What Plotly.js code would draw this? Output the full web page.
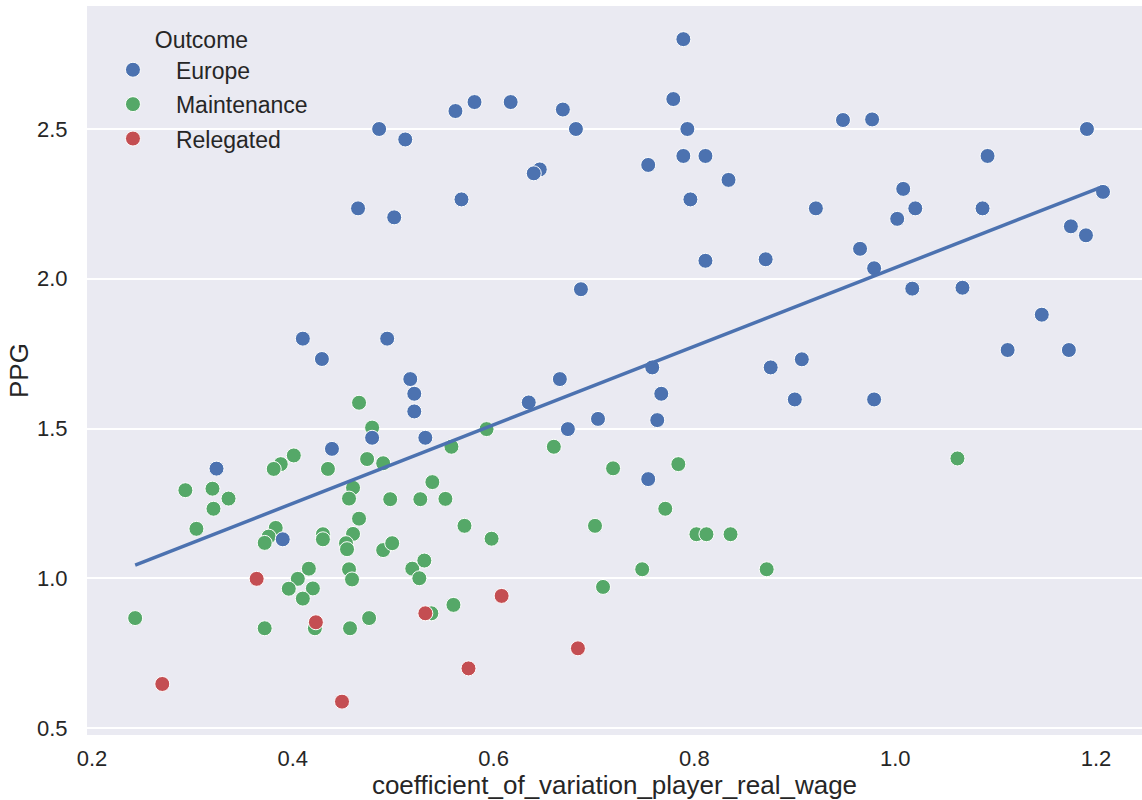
<!DOCTYPE html>
<html>
<head>
<meta charset="utf-8">
<script src="https://cdn.plot.ly/plotly-3.0.1.min.js"></script>
<style>
  html, body { margin: 0; padding: 0; background: #ffffff; }
  #chart { width: 1142px; height: 800px; }
</style>
</head>
<body>
<div id="chart"></div>
<script>
// ---- Data ----
const outcomeLabels = ["Europe", "Maintenance", "Relegated"];

const europeX = [0.789, 0.779, 0.793, 0.789, 0.811, 0.754, 0.834, 0.796, 0.921, 0.811,
  0.871, 0.687, 0.669, 0.682, 0.617, 0.581, 0.562, 0.512, 0.486, 0.646,
  0.640, 0.568, 0.501, 0.465, 0.948, 0.977, 1.191, 1.092, 1.008, 1.020,
  1.002, 1.087, 1.207, 1.175, 1.190, 0.965, 0.979, 1.017, 1.067, 1.146,
  1.112, 1.173, 0.876, 0.907, 0.900, 0.979, 0.758, 0.767, 0.763, 0.754,
  0.666, 0.635, 0.674, 0.704, 0.494, 0.410, 0.429, 0.517, 0.521, 0.521,
  0.532, 0.479, 0.439, 0.324, 0.390];
const europeY = [2.80, 2.60, 2.50, 2.41, 2.41, 2.38, 2.33, 2.265, 2.235, 2.06,
  2.065, 1.965, 2.565, 2.50, 2.59, 2.59, 2.56, 2.465, 2.50, 2.365,
  2.352, 2.265, 2.205, 2.235, 2.53, 2.532, 2.50, 2.41, 2.30, 2.235,
  2.20, 2.235, 2.29, 2.175, 2.145, 2.10, 2.035, 1.967, 1.97, 1.88,
  1.762, 1.762, 1.704, 1.731, 1.597, 1.597, 1.704, 1.616, 1.528, 1.331,
  1.665, 1.587, 1.498, 1.532, 1.80, 1.80, 1.732, 1.665, 1.616, 1.557,
  1.469, 1.469, 1.432, 1.366, 1.130];

const maintenanceX = [1.062, 0.719, 0.784, 0.771, 0.802, 0.812, 0.836, 0.748, 0.872, 0.709,
  0.593, 0.558, 0.490, 0.660, 0.539, 0.497, 0.527, 0.552, 0.571, 0.598,
  0.701, 0.490, 0.499, 0.519, 0.531, 0.526, 0.560, 0.538, 0.466, 0.479,
  0.474, 0.401, 0.388, 0.381, 0.435, 0.293, 0.320, 0.336, 0.321, 0.304,
  0.383, 0.376, 0.372, 0.460, 0.456, 0.466, 0.430, 0.430, 0.460, 0.453,
  0.454, 0.416, 0.405, 0.420, 0.396, 0.410, 0.456, 0.459, 0.476, 0.457,
  0.422, 0.372, 0.243];
const maintenanceY = [1.40, 1.367, 1.381, 1.232, 1.147, 1.147, 1.147, 1.030, 1.030, 0.971,
  1.498, 1.439, 1.384, 1.439, 1.321, 1.264, 1.264, 1.265, 1.175, 1.132,
  1.175, 1.094, 1.117, 1.032, 1.059, 1.000, 0.911, 0.883, 1.586, 1.503,
  1.398, 1.410, 1.381, 1.365, 1.365, 1.294, 1.299, 1.266, 1.232, 1.165,
  1.168, 1.139, 1.118, 1.302, 1.266, 1.199, 1.147, 1.130, 1.148, 1.117,
  1.097, 1.032, 0.998, 0.966, 0.965, 0.932, 1.030, 0.996, 0.867, 0.833,
  0.833, 0.833, 0.867];

const relegatedX = [0.364, 0.423, 0.532, 0.608, 0.684, 0.575, 0.270, 0.449];
const relegatedY = [0.998, 0.853, 0.883, 0.941, 0.766, 0.699, 0.647, 0.588];

// regression line end points (as drawn in the reference)
const regX = [0.243, 1.206];
const regY = [1.044, 2.307];

const xTickVals = [0.2, 0.4, 0.6, 0.8, 1.0, 1.2];
const xTickText = ["0.2", "0.4", "0.6", "0.8", "1.0", "1.2"];
const yTickVals = [0.5, 1.0, 1.5, 2.0, 2.5];
const yTickText = ["0.5", "1.0", "1.5", "2.0", "2.5"];

// ---- Styling ----
const colors = { Europe: "#4C72B0", Maintenance: "#55A868", Relegated: "#C44E52" };
const FONT = "Liberation Sans, Arial, Helvetica, sans-serif";
const TXT = "#262626";

function scatterTrace(name, xs, ys, rank) {
  return {
    type: "scatter", mode: "markers", name: name,
    x: xs, y: ys,
    legendgroup: name, legendrank: rank,
    marker: { color: colors[name], size: 15, line: { color: "#ffffff", width: 1 } },
    hoverinfo: "x+y+name"
  };
}

const traces = [
  scatterTrace(outcomeLabels[1], maintenanceX, maintenanceY, 2),
  scatterTrace(outcomeLabels[0], europeX, europeY, 1),
  scatterTrace(outcomeLabels[2], relegatedX, relegatedY, 3),
  {
    type: "scatter", mode: "lines", x: regX, y: regY, showlegend: false,
    line: { color: "#4C72B0", width: 3.5 }, hoverinfo: "skip"
  }
];

const layout = {
  width: 1142, height: 800,
  margin: { l: 87, r: 0, t: 6, b: 65, pad: 0 },
  paper_bgcolor: "#ffffff",
  plot_bgcolor: "#EAEAF2",
  font: { family: FONT, color: TXT, size: 22 },
  showlegend: true,
  xaxis: {
    range: [0.19502, 1.24582],
    tickvals: xTickVals, ticktext: xTickText,
    showgrid: false, zeroline: false, showline: false,
    ticks: "outside", ticklen: 4, tickcolor: "rgba(0,0,0,0)",
    tickfont: { family: FONT, size: 22, color: TXT },
    title: { text: "coefficient_of_variation_player_real_wage", font: { family: FONT, size: 26, color: TXT }, standoff: 13 }
  },
  yaxis: {
    range: [0.4766, 2.9107],
    tickvals: yTickVals, ticktext: yTickText,
    showgrid: true, gridcolor: "#ffffff", gridwidth: 2,
    zeroline: false, showline: false,
    ticks: "outside", ticklen: 14, tickcolor: "rgba(0,0,0,0)",
    tickfont: { family: FONT, size: 22, color: TXT },
    title: { text: "PPG", font: { family: FONT, size: 26, color: TXT }, standoff: 0 }
  },
  legend: {
    x: 0.0028, y: 0.983, xanchor: "left", yanchor: "top",
    bgcolor: "rgba(0,0,0,0)", borderwidth: 0,
    font: { family: FONT, size: 23, color: TXT },
    title: { text: "Outcome", side: "top center", font: { family: FONT, size: 23, color: TXT } },
    tracegroupgap: 1.5,
    itemwidth: 76,
    traceorder: "grouped"
  }
};

Plotly.newPlot("chart", traces, layout, { displayModeBar: false, responsive: false });
</script>
</body>
</html>
